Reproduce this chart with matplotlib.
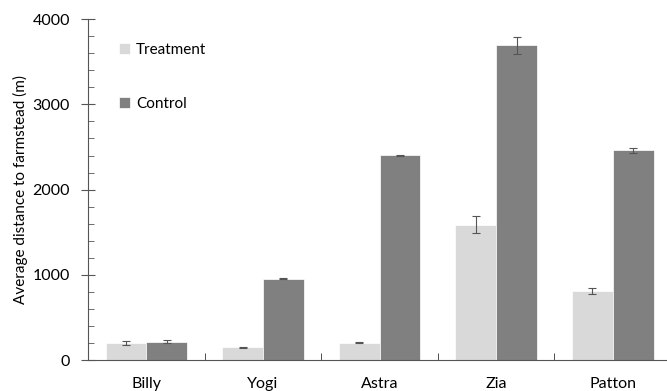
import matplotlib.pyplot as plt
import numpy as np
from matplotlib.ticker import MultipleLocator

# Data
dogs = ['Billy', 'Yogi', 'Astra', 'Zia', 'Patton']
treatment = [203, 152, 203, 1587, 809]
treatment_err = [25, 6, 8, 100, 37]
control = [215, 954, 2401, 3691, 2460]
control_err = [20, 5, 10, 94, 32]

plt.rcParams['font.family'] = ['Lato', 'DejaVu Sans']

fig = plt.figure(figsize=(6.67, 3.91), dpi=100)
ax = fig.add_axes([0.132, 0.079, 0.874, 0.872])

x = np.arange(len(dogs))
w = 0.35
ax.bar(x - w / 2, treatment, w, color='#d9d9d9', edgecolor='white', linewidth=0.5, label='Treatment')
ax.bar(x + w / 2, control, w, color='#808080', edgecolor='white', linewidth=0.5, label='Control')
ax.errorbar(x - w / 2, treatment, yerr=treatment_err, fmt='none',
            ecolor='#555555', elinewidth=0.8, capsize=3, capthick=0.8)
ax.errorbar(x + w / 2, control, yerr=control_err, fmt='none',
            ecolor='#555555', elinewidth=0.8, capsize=3, capthick=0.8)

ax.set_xlim(-0.5, len(dogs) - 0.5)
ax.set_ylim(0, 4000)
ax.set_xticks(x)
ax.set_xticklabels(dogs, fontsize=11.5)
ax.set_xticks(np.arange(0.5, len(dogs) - 0.5), minor=True)
ax.tick_params(axis='x', which='major', length=0, pad=12)
ax.tick_params(axis='x', which='minor', direction='in', length=5, color='#333333')

ax.yaxis.set_major_locator(MultipleLocator(1000))
ax.yaxis.set_minor_locator(MultipleLocator(200))
ax.tick_params(axis='y', which='major', direction='inout', length=10, pad=8,
               labelsize=11.5, color='#555555')
ax.tick_params(axis='y', which='minor', direction='in', length=4, color='#555555')
ax.set_ylabel('Average distance to farmstead (m)', fontsize=11, labelpad=3)

for side in ['top', 'right']:
    ax.spines[side].set_visible(False)
for side in ['left', 'bottom']:
    ax.spines[side].set_color('#555555')

ax.legend(loc='upper left', bbox_to_anchor=(0.03, 0.97), frameon=False, fontsize=11,
          handlelength=0.7, handleheight=0.7, handletextpad=0.4, labelspacing=2.6)

fig.savefig('out.png', dpi=100)
